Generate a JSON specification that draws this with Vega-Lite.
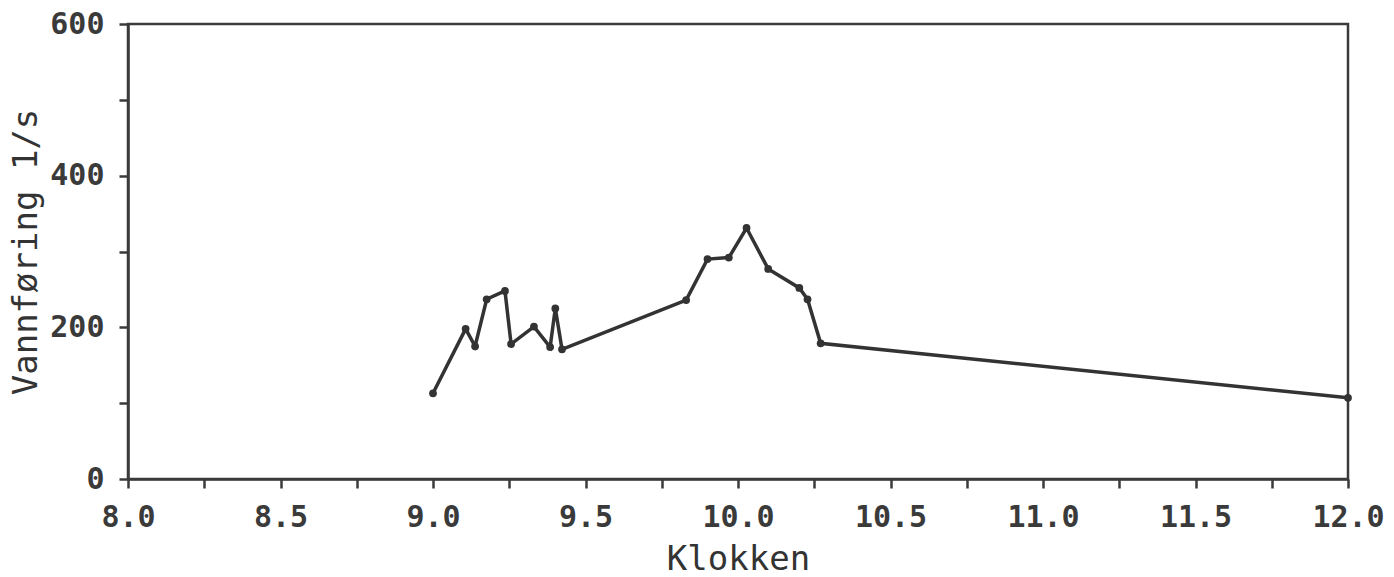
{
  "$schema": "https://vega.github.io/schema/vega-lite/v6.json",
  "width": 1220,
  "height": 455,
  "autosize": {"type": "none"},
  "padding": {"left": 128, "top": 24, "right": 46, "bottom": 98},
  "background": "white",
  "config": {
    "view": {"stroke": "#3a3a3a", "strokeWidth": 2.5},
    "axis": {
      "grid": false,
      "domainColor": "#3a3a3a",
      "domainWidth": 2.5,
      "tickColor": "#3a3a3a",
      "tickWidth": 2.5,
      "tickSize": 9,
      "labelFont": "DejaVu Sans Mono",
      "labelFontSize": 30,
      "labelFontWeight": "bold",
      "labelColor": "#3a3a3a",
      "titleFont": "DejaVu Sans Mono",
      "titleFontWeight": "normal",
      "titleFontSize": 34,
      "titleColor": "#333333"
    }
  },
  "data": {
    "values": [
      {"t": 9.0, "q": 113},
      {"t": 9.107, "q": 198},
      {"t": 9.138, "q": 175},
      {"t": 9.176, "q": 237},
      {"t": 9.236, "q": 248},
      {"t": 9.256, "q": 178},
      {"t": 9.331, "q": 201},
      {"t": 9.384, "q": 174},
      {"t": 9.401, "q": 225},
      {"t": 9.423, "q": 171},
      {"t": 9.83, "q": 236},
      {"t": 9.9, "q": 290},
      {"t": 9.97, "q": 292},
      {"t": 10.028, "q": 331},
      {"t": 10.099, "q": 277},
      {"t": 10.201, "q": 252},
      {"t": 10.228, "q": 237},
      {"t": 10.271, "q": 179},
      {"t": 12.0, "q": 107}
    ]
  },
  "encoding": {
    "x": {
      "field": "t",
      "type": "quantitative",
      "scale": {"domain": [8, 12], "nice": false, "zero": false},
      "axis": {
        "title": "Klokken",
        "values": [8, 8.25, 8.5, 8.75, 9, 9.25, 9.5, 9.75, 10, 10.25, 10.5, 10.75, 11, 11.25, 11.5, 11.75, 12],
        "labelExpr": "(datum.value * 2) % 1 == 0 ? format(datum.value, '.1f') : ''",
        "labelPadding": 14,
        "titlePadding": 10,
        "labelFlush": false
      }
    },
    "y": {
      "field": "q",
      "type": "quantitative",
      "scale": {"domain": [0, 600], "nice": false},
      "axis": {
        "title": "Vannføring 1/s",
        "values": [0, 100, 200, 300, 400, 500, 600],
        "labelExpr": "datum.value % 200 == 0 ? datum.label : ''",
        "labelPadding": 15,
        "titlePadding": 6,
        "labelFlush": false
      }
    }
  },
  "layer": [
    {"mark": {"type": "line", "color": "#333333", "strokeWidth": 3.5}},
    {"mark": {"type": "point", "filled": true, "color": "#333333", "size": 60, "opacity": 1}}
  ]
}
